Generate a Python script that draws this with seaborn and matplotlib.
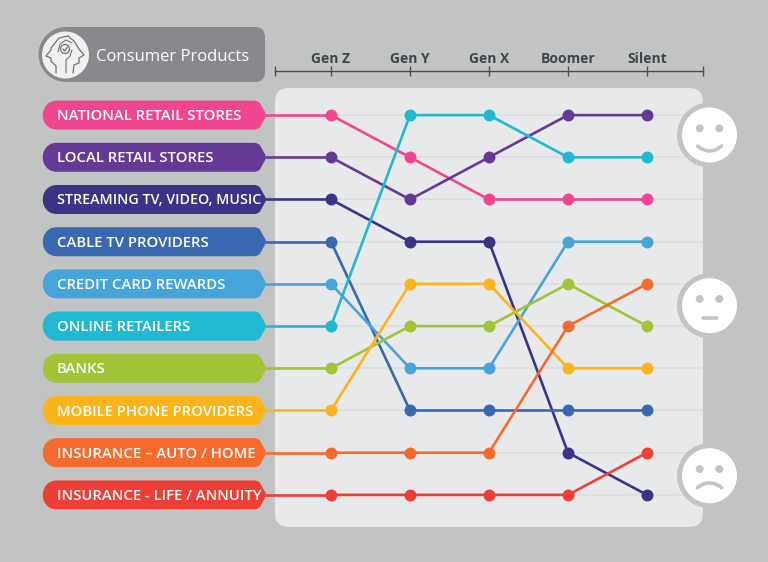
import matplotlib
matplotlib.use("Agg")
from matplotlib import pyplot as plt
from matplotlib.patches import Circle, FancyBboxPatch, PathPatch
from matplotlib.path import Path
import pandas as pd
import seaborn as sns

generations = ["Gen Z", "Gen Y", "Gen X", "Boomer", "Silent"]
categories = ["NATIONAL RETAIL STORES", "LOCAL RETAIL STORES", "STREAMING TV, VIDEO, MUSIC",
              "CABLE TV PROVIDERS", "CREDIT CARD REWARDS", "ONLINE RETAILERS", "BANKS",
              "MOBILE PHONE PROVIDERS", "INSURANCE – AUTO / HOME", "INSURANCE - LIFE / ANNUITY"]
colors = ["#f0468f", "#653a96", "#3c3388", "#3a68b0", "#45a4da",
          "#20b8d2", "#a0c436", "#fdb31a", "#f76a2d", "#ee3e38"]
national = [1, 2, 3, 3, 3]
local = [2, 3, 2, 1, 1]
streaming = [3, 4, 4, 9, 10]
cable = [4, 8, 8, 8, 8]
credit = [5, 7, 7, 4, 4]
online = [6, 1, 1, 2, 2]
banks = [7, 6, 6, 5, 6]
mobile = [8, 5, 5, 7, 7]
auto = [9, 9, 9, 6, 5]
life = [10, 10, 10, 10, 9]
ranks = [national, local, streaming, cable, credit, online, banks, mobile, auto, life]

BG = "#c2c4c4"
W, H = 768, 562

sns.set_theme(style="white")
plt.rcParams["font.family"] = ["Open Sans", "DejaVu Sans"]

rows = []
for name, values in zip(categories, ranks):
    for i, v in enumerate(values):
        rows.append({"category": name, "gen": i, "rank": v})
df = pd.DataFrame(rows)

fig = plt.figure(figsize=(W / 100, H / 100), dpi=100, facecolor=BG)


def layer(z):
    a = fig.add_axes([0, 0, 1, 1], zorder=z)
    a.set_xlim(0, W)
    a.set_ylim(H, 0)
    a.axis("off")
    return a


back = layer(0)
front = layer(2)

# panel behind the lines
back.add_patch(FancyBboxPatch((275 + 14, 88 + 14), 428 - 28, 439 - 28, boxstyle="round,pad=14,rounding_size=14",
                              fc="#e8e9ea", ec="none"))

# chart axes: covers the panel width, its top spine is the ruler
ax = fig.add_axes([275 / W, 1 - 527 / H, 428 / W, (527 - 71) / H], zorder=1)
ax.patch.set_alpha(0)
ax.hlines(range(1, 11), -0.709, 4.709, color="#dcdddf", lw=1.1, zorder=1)
# stubs from the label pills to the Gen Z points
ax.hlines(range(1, 11), -0.84, 0, colors=colors, lw=1.9, clip_on=False, zorder=2)
sns.lineplot(data=df, x="gen", y="rank", hue="category", palette=colors, hue_order=categories,
             marker="o", markersize=8.6, markeredgewidth=0, linewidth=1.9, legend=False,
             estimator=None, sort=False, ax=ax, zorder=3)
ax.set_xlim(-0.709, 4.709)
ax.set_ylim(10.761, -0.045)
ax.set_xlabel("")
ax.set_ylabel("")
ax.set_yticks([])
ax.set_xticks(range(5), generations)
ax.xaxis.tick_top()
ax.tick_params(axis="x", direction="inout", length=7, width=1, color="#4a4d52", pad=0.3, labelsize=10,
               labelcolor="#3f434a", top=True)
for lab in ax.get_xticklabels():
    lab.set_fontweight("bold")
for s in ["left", "right", "bottom"]:
    ax.spines[s].set_visible(False)
ax.spines["top"].set_color("#4a4d52")
ax.spines["top"].set_linewidth(1)
# end caps of the ruler
ax.vlines([-0.709, 4.709], -0.045 - 0.12, -0.045 + 0.12, color="#4a4d52", lw=1, clip_on=False)


def rank_y(r):
    return 115.1 + 42.2 * (r - 1)


# label pills with a pointed right end
for r, (name, c) in enumerate(zip(categories, colors), start=1):
    y = rank_y(r)
    verts = [(57, y - 14.5), (254, y - 14.5), (258, y - 14.5), (260, y - 12), (265, y - 3), (267, y), (265, y + 3),
             (260, y + 12), (258, y + 14.5), (254, y + 14.5), (57, y + 14.5), (38, y + 14.5), (38, y - 14.5), (57, y - 14.5)]
    codes = [Path.MOVETO, Path.LINETO, Path.CURVE3, Path.CURVE3, Path.LINETO, Path.CURVE3, Path.CURVE3,
             Path.LINETO, Path.CURVE3, Path.CURVE3, Path.LINETO, Path.CURVE4, Path.CURVE4, Path.CURVE4]
    back.add_patch(PathPatch(Path(verts, codes), fc=c, ec="none"))
    size = 10.3 if name.startswith("STREAMING") else 10.7
    back.text(57, y + 1, name, color="white", fontsize=size, fontweight="semibold", va="center", ha="left")

# header pill
back.add_patch(FancyBboxPatch((60, 27), 205, 55, boxstyle="round,pad=0,rounding_size=10", fc="#87898c", ec="none"))
back.add_patch(Circle((66, 54.5), 27.5, fc="#87898c", ec="none"))
back.add_patch(Circle((65.5, 55), 23.5, fc="#f0f0ee", ec="none"))
back.text(96, 57, "Consumer Products", color="white", fontsize=12, va="center", ha="left")

# head icon, two profiles back to back
icon = "#6f7174"
back.plot([56, 56, 51, 51, 46, 51, 51, 59, 68], [73, 66, 61, 58, 56, 50, 48, 38, 36], color=icon, lw=0.9)
back.plot([73, 74, 79, 79, 84, 79, 74, 68], [73, 65, 63, 58, 55, 49, 41, 36], color=icon, lw=0.9)
back.add_patch(Circle((65, 49), 4.5, fc="none", ec=icon, lw=0.9))
back.plot([63, 64.5, 67.5], [49, 51, 47], color=icon, lw=0.9)
back.plot([58, 60, 66, 72], [52, 44, 40, 43], color=icon, lw=0.8)
back.plot([66, 66, 70, 72], [73, 60, 56, 50], color=icon, lw=0.8)

# faces, grey ring merges with the background on the right
for cy in [135, 305.7, 475.7]:
    front.add_patch(Circle((709.5, cy), 32.5, fc=BG, ec="none"))
    front.add_patch(Circle((709.5, cy), 27.5, fc="white", ec="none"))
    front.add_patch(Circle((699.7, cy - 6.7), 4, fc=BG, ec="none"))
    front.add_patch(Circle((719.3, cy - 6.7), 4, fc=BG, ec="none"))
happy = Path([(697.5, 146), (709.5, 156), (721.5, 146)], [Path.MOVETO, Path.CURVE3, Path.CURVE3])
sad = Path([(697.5, 487.7), (709.5, 478), (721.5, 487.7)], [Path.MOVETO, Path.CURVE3, Path.CURVE3])
for p in [happy, sad]:
    front.add_patch(PathPatch(p, fc="none", ec=BG, lw=2.6, capstyle="round"))
front.plot([702.5, 716.5], [318, 318], color=BG, lw=2.6, solid_capstyle="round")

fig.savefig("out.png", dpi=100, facecolor=BG)
